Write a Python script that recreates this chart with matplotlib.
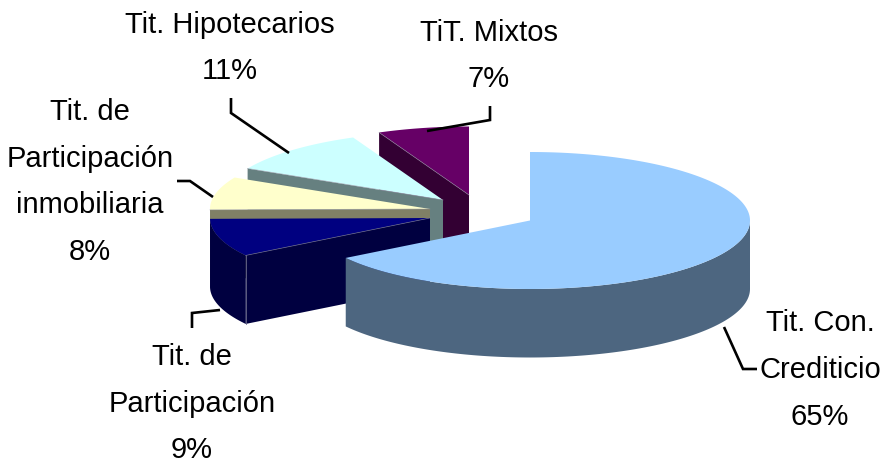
import numpy as np
import matplotlib
matplotlib.use("Agg")
import matplotlib.pyplot as plt
from matplotlib.patches import Polygon

# Data
categories = ["Tit. Con.\nCrediticio", "Tit. de\nParticipación", "Tit. de\nParticipación\ninmobiliaria",
              "Tit. Hipotecarios", "TiT. Mixtos"]
shares = [65.8, 9.0, 7.8, 10.7, 6.7]
pct_labels = ["65%", "9%", "8%", "11%", "7%"]

# Styles and layout (in pixels of the 881x463 canvas)
top_colors = ["#99CCFF", "#000080", "#FFFFCC", "#CCFFFF", "#660066"]
side_colors = ["#4D6680", "#000040", "#808066", "#668080", "#330033"]
apexes = [(530, 220.5), (430, 218), (430, 209), (443, 200), (469, 195)]
RX, RY, DEPTH = 220, 68.5, 68.5
label_xy = [(820, 370), (192, 403.5), (90, 182), (230, 48), (489, 56)]
leaders = [
    [(724, 327), (743, 369), (757, 369)],
    [(220, 310), (192, 313), (192, 328)],
    [(213, 197), (190, 181), (177, 181)],
    [(289, 153), (231, 113), (231, 98)],
    [(427, 131), (490, 120), (490, 106)],
]

plt.rcParams["font.family"] = ["Liberation Sans", "DejaVu Sans"]
fig = plt.figure(figsize=(8.81, 4.63), dpi=100)
ax = fig.add_axes([0, 0, 1, 1])
ax.set_xlim(0, 881)
ax.set_ylim(463, 0)
ax.axis("off")


def rim(c, deg):
    t = np.radians(deg)
    return np.column_stack([c[0] + RX * np.sin(t), c[1] - RY * np.cos(t)])


edges = np.concatenate([[0], np.cumsum(shares)]) / sum(shares) * 360
order = [4, 3, 2, 1, 0]  # back to front
for i in order:
    a, b, c = edges[i], edges[i + 1], apexes[i]
    # outer wall: only the front half of the rim shows
    lo, hi = max(a, 90), min(b, 270)
    if hi > lo:
        arc = rim(c, np.linspace(lo, hi, 120))
        low = arc + [0, DEPTH]
        ax.add_patch(Polygon(np.vstack([arc, low[::-1]]), closed=True, fc=side_colors[i], ec="none", zorder=i * -3 + 20))
    # cut face at the start angle, when it faces the viewer
    if 180 < a < 360:
        p = rim(c, np.array([a]))[0]
        face = [c, p, p + [0, DEPTH], np.array(c) + [0, DEPTH]]
        ax.add_patch(Polygon(face, closed=True, fc=side_colors[i], ec="none", zorder=i * -3 + 20))
        ax.plot([c[0], p[0]], [c[1], p[1]], color="#8c8c9c", lw=0.5, alpha=0.7, zorder=i * -3 + 22)
        if i == 1:
            ax.plot([p[0], p[0]], [p[1], p[1] + DEPTH], color="#6c6c8c", lw=0.6, zorder=i * -3 + 22)
    # top surface
    arc = rim(c, np.linspace(a, b, 200))
    ax.add_patch(Polygon(np.vstack([[c], arc]), closed=True, fc=top_colors[i], ec="none", zorder=i * -3 + 21))

for pts in leaders:
    xs, ys = zip(*pts)
    ax.plot(xs, ys, color="black", lw=1.9, solid_joinstyle="miter", solid_capstyle="butt", zorder=30)

for (x, y), name, pct in zip(label_xy, categories, pct_labels):
    ax.text(x, y, name + "\n" + pct, ha="center", va="center", fontsize=21, color="black",
            linespacing=1.85, zorder=31)

fig.savefig("out.png", dpi=100)
